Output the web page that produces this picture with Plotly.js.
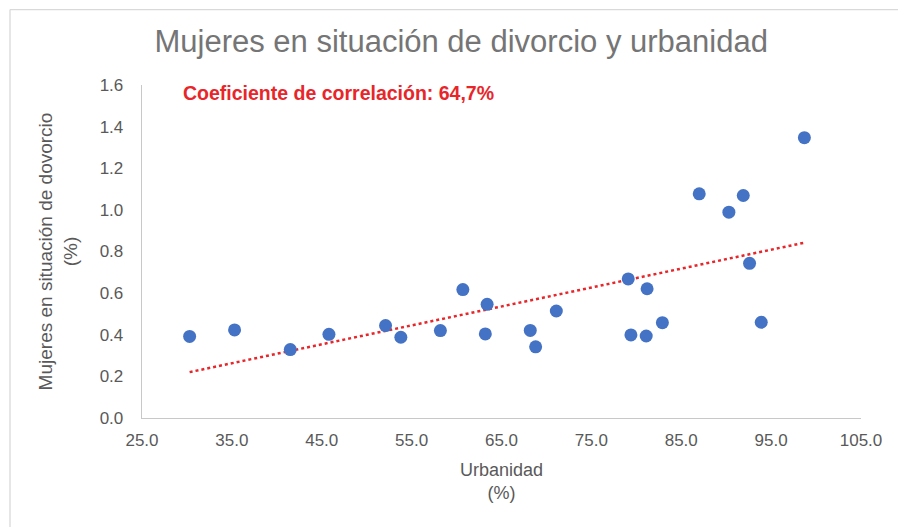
<!DOCTYPE html>
<html>
<head>
<meta charset="utf-8">
<script src="https://cdn.plot.ly/plotly-3.0.1.min.js"></script>
<style>html,body{margin:0;padding:0;background:#fff;}#chart{width:899px;height:527px;}</style>
</head>
<body>
<div id="chart"></div>
<script>
const urbanidad = [30.3, 35.3, 41.5, 45.8, 52.1, 53.8, 58.2, 60.7, 63.2, 63.4, 68.2, 68.8, 71.1, 79.1, 79.4, 81.1, 81.2, 82.9, 87.0, 90.3, 91.9, 92.6, 93.9, 98.7];
const divorcio  = [0.392, 0.423, 0.329, 0.402, 0.444, 0.388, 0.420, 0.617, 0.404, 0.546, 0.421, 0.342, 0.514, 0.668, 0.399, 0.394, 0.621, 0.458, 1.077, 0.989, 1.069, 0.743, 0.460, 1.347];
const xTicks = [25, 35, 45, 55, 65, 75, 85, 95, 105];
const yTicks = [0, 0.2, 0.4, 0.6, 0.8, 1.0, 1.2, 1.4, 1.6];
const titleText = 'Mujeres en situación de divorcio y urbanidad';
const corrText = 'Coeficiente de correlación: 64,7%';

// least-squares linear trendline from the data
const n = urbanidad.length;
const mx = urbanidad.reduce((a,b)=>a+b,0)/n;
const my = divorcio.reduce((a,b)=>a+b,0)/n;
let sxy = 0, sxx = 0;
for (let i=0;i<n;i++){ sxy += (urbanidad[i]-mx)*(divorcio[i]-my); sxx += (urbanidad[i]-mx)**2; }
const slope = sxy/sxx, icpt = my - slope*mx;
const xMin = Math.min(...urbanidad), xMax = Math.max(...urbanidad);
const trendX = [xMin, xMax];
const trendY = trendX.map(v => icpt + slope*v);

const gray = '#595959';
const font = 'Liberation Sans, Arial, sans-serif';

const data = [
  {x: trendX, y: trendY, mode: 'lines', type: 'scatter',
   line: {color: '#E8262A', width: 2.5, dash: 'dot'}, hoverinfo: 'skip', showlegend: false},
  {x: urbanidad, y: divorcio, mode: 'markers', type: 'scatter',
   marker: {color: '#4472C4', size: 13}, showlegend: false}
];

const layout = {
  width: 899, height: 527,
  margin: {l: 142, r: 38, t: 85, b: 108.5},
  paper_bgcolor: '#fff', plot_bgcolor: '#fff',
  font: {family: font, color: gray},
  title: {text: titleText, font: {family: font, size: 31, color: '#757575'}, x: 0.513, xanchor: 'center', y: 0.921, yanchor: 'middle'},
  xaxis: {range: [25, 105], tickvals: xTicks, ticktext: xTicks.map(v=>v.toFixed(1)),
    showgrid: false, zeroline: false, showline: true, linecolor: '#c8c8c8', linewidth: 1.3, ticks: '',
    tickfont: {size: 17, color: gray}, ticklabelstandoff: 6,
    title: {text: 'Urbanidad<br>(%)', font: {size: 18, color: gray}, standoff: 14}},
  yaxis: {range: [0, 1.6], tickvals: yTicks, ticktext: yTicks.map(v=>v.toFixed(1)),
    showgrid: false, zeroline: false, showline: true, linecolor: '#c8c8c8', linewidth: 1.3, ticks: '',
    tickfont: {size: 17, color: gray}, ticklabelstandoff: 14,
    title: {text: 'Mujeres en situación de dovorcio<br>(%)', font: {size: 19, color: gray}, standoff: 17}},
  annotations: [{text: '<b>' + corrText + '</b>', xref: 'paper', yref: 'paper',
    x: (181-142)/719, y: (418.5-93)/333.5, xanchor: 'left', yanchor: 'middle', showarrow: false,
    font: {family: font, size: 19.5, color: '#E8262A'}}],
  shapes: [
    {type: 'line', xref: 'paper', yref: 'paper', x0: (10-142)/719, x1: (898-142)/719, y0: (418.5-9.5)/333.5, y1: (418.5-9.5)/333.5, line: {color: '#d9d9d9', width: 1.3}},
    {type: 'line', xref: 'paper', yref: 'paper', x0: (10-142)/719, x1: (10-142)/719, y0: (418.5-9.5)/333.5, y1: (418.5-530)/333.5, line: {color: '#d9d9d9', width: 1.3}}
  ]
};

Plotly.newPlot('chart', data, layout, {displayModeBar: false, staticPlot: true});
</script>
</body>
</html>
